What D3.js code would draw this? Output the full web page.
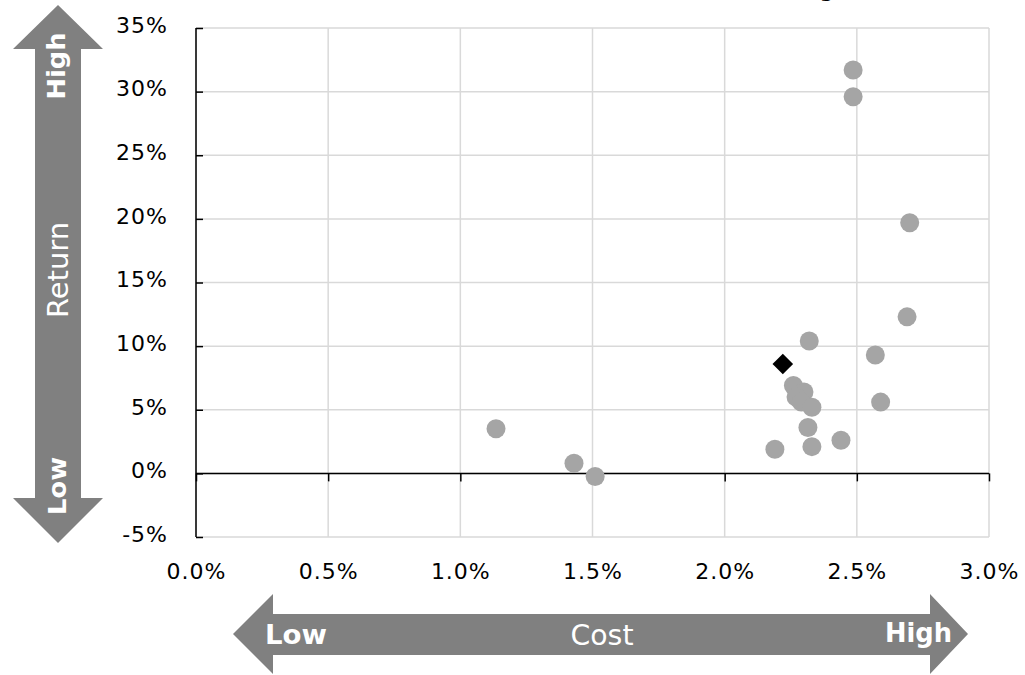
<!DOCTYPE html>
<html><head><meta charset="utf-8">
<script src="https://cdn.jsdelivr.net/npm/d3@7"></script>
<style>body{margin:0;background:#fff;}svg{display:block;}</style>
</head><body>
<svg id="c" width="1025" height="675"></svg>
<script>
// Data (cost %, return %)
const peerCost   = [2.486, 2.486, 2.70, 2.69, 2.32, 2.57, 2.59, 2.26, 2.30, 2.27, 2.29, 2.33, 2.315, 2.33, 2.44, 2.19, 1.135, 1.43, 1.51];
const peerReturn = [31.7, 29.6, 19.7, 12.3, 10.4, 9.3, 5.6, 6.9, 6.4, 6.0, 5.6, 5.2, 3.6, 2.1, 2.6, 1.9, 3.5, 0.8, -0.24];
const fundCost   = [2.22];
const fundReturn = [8.6];
const xTicks = [0, 0.5, 1.0, 1.5, 2.0, 2.5, 3.0];
const yTicks = [-5, 0, 5, 10, 15, 20, 25, 30, 35];
const titleText = "Cost vs. Return Ranking";

const svg = d3.select("#c");
const font = "DejaVu Sans, Verdana, sans-serif";
const x = d3.scaleLinear().domain([0, 3]).range([196, 989]);
const y = d3.scaleLinear().domain([-5, 35]).range([537, 28]);

// title (cut off at the top edge, as in the reference)
svg.append("text").attr("x", 834).attr("y", -3).attr("text-anchor", "end")
  .attr("font-family", font).attr("font-weight", "bold").attr("font-size", 20).text(titleText);

// gridlines
svg.append("g").selectAll("line").data(yTicks).join("line")
  .attr("x1", x(0)).attr("x2", x(3)).attr("y1", d => y(d)).attr("y2", d => y(d))
  .attr("stroke", "#d9d9d9").attr("stroke-width", 1.5);
svg.append("g").selectAll("line").data(xTicks).join("line")
  .attr("y1", y(-5)).attr("y2", y(35)).attr("x1", d => x(d)).attr("x2", d => x(d))
  .attr("stroke", "#d9d9d9").attr("stroke-width", 1.5);

// y axis (ticks inside)
const yAxis = svg.append("g").attr("transform", `translate(${x(0)},0)`)
  .call(d3.axisRight(y).tickValues(yTicks).tickSize(7).tickFormat(""));
yAxis.select(".domain").attr("stroke", "#000").attr("stroke-width", 1.5).attr("d", `M0,${y(35)}V${y(-5)}`);
yAxis.selectAll(".tick line").attr("stroke", "#000").attr("stroke-width", 1.5);

// x axis at 0%
const xAxis = svg.append("g").attr("transform", `translate(0,${y(0)})`)
  .call(d3.axisBottom(x).tickValues(xTicks).tickSize(8).tickFormat(""));
xAxis.select(".domain").attr("stroke", "#000").attr("stroke-width", 1.5).attr("d", `M${x(0)},0H${x(3)}`);
xAxis.selectAll(".tick line").attr("stroke", "#000").attr("stroke-width", 1.5);

// tick labels
svg.append("g").selectAll("text").data(yTicks).join("text")
  .attr("x", 168).attr("y", d => y(d)).attr("dy", "0.22em").attr("text-anchor", "end")
  .attr("font-family", font).attr("font-size", 22).attr("letter-spacing", 1).attr("fill", "#000")
  .text(d => d + "%");
svg.append("g").selectAll("text").data(xTicks).join("text")
  .attr("x", d => x(d) + 0.5).attr("y", 579).attr("text-anchor", "middle")
  .attr("font-family", font).attr("font-size", 22).attr("letter-spacing", 1).attr("fill", "#000")
  .text(d => d.toFixed(1) + "%");

// peer points
svg.append("g").selectAll("circle").data(peerCost.map((c, i) => [c, peerReturn[i]])).join("circle")
  .attr("cx", d => x(d[0])).attr("cy", d => y(d[1])).attr("r", 9.5).attr("fill", "#a5a5a5");

// fund diamond
svg.append("g").selectAll("path").data(fundCost.map((c, i) => [c, fundReturn[i]])).join("path")
  .attr("d", d3.symbol().type(d3.symbolDiamond2).size(270))
  .attr("transform", d => `translate(${x(d[0])},${y(d[1])})`)
  .attr("fill", "#000");

// vertical arrow
const gray = "#808080";
svg.append("polygon").attr("fill", gray)
  .attr("points", [[58,5],[103,49],[81,49],[81,498],[103,498],[58,543],[13,498],[35,498],[35,49],[13,49]].map(p => p.join(",")).join(" "));
// horizontal arrow
svg.append("polygon").attr("fill", gray)
  .attr("points", [[233,634],[273,594],[273,614],[930,614],[930,594],[968,634],[930,674],[930,655],[273,655],[273,674]].map(p => p.join(",")).join(" "));

// arrow texts
function vtext(txt, cy, bold, size, bx, len) {
  const t = svg.append("text").attr("transform", `translate(${bx},${cy}) rotate(-90)`)
    .attr("text-anchor", "middle").attr("font-family", font)
    .attr("font-weight", bold ? "bold" : "normal").attr("font-size", size)
    .attr("fill", "#fff").text(txt);
  if (len) t.attr("textLength", len).attr("lengthAdjust", "spacingAndGlyphs");
}
vtext("High", 66, true, 25, 65, 67);
vtext("Return", 270, false, 28, 68, 96);
vtext("Low", 486, true, 25, 66, 58);

svg.append("text").attr("x", 265).attr("y", 644).attr("font-family", font)
  .attr("font-weight", "bold").attr("font-size", 26).attr("fill", "#fff")
  .attr("textLength", 62).attr("lengthAdjust", "spacingAndGlyphs").text("Low");
svg.append("text").attr("x", 885).attr("y", 642).attr("font-family", font)
  .attr("font-weight", "bold").attr("font-size", 26).attr("fill", "#fff")
  .attr("textLength", 67).attr("lengthAdjust", "spacingAndGlyphs").text("High");
svg.append("text").attr("x", 602).attr("y", 645).attr("text-anchor", "middle").attr("font-family", font)
  .attr("font-size", 28).attr("fill", "#fff")
  .attr("textLength", 63).attr("lengthAdjust", "spacingAndGlyphs").text("Cost");
</script>
</body></html>
